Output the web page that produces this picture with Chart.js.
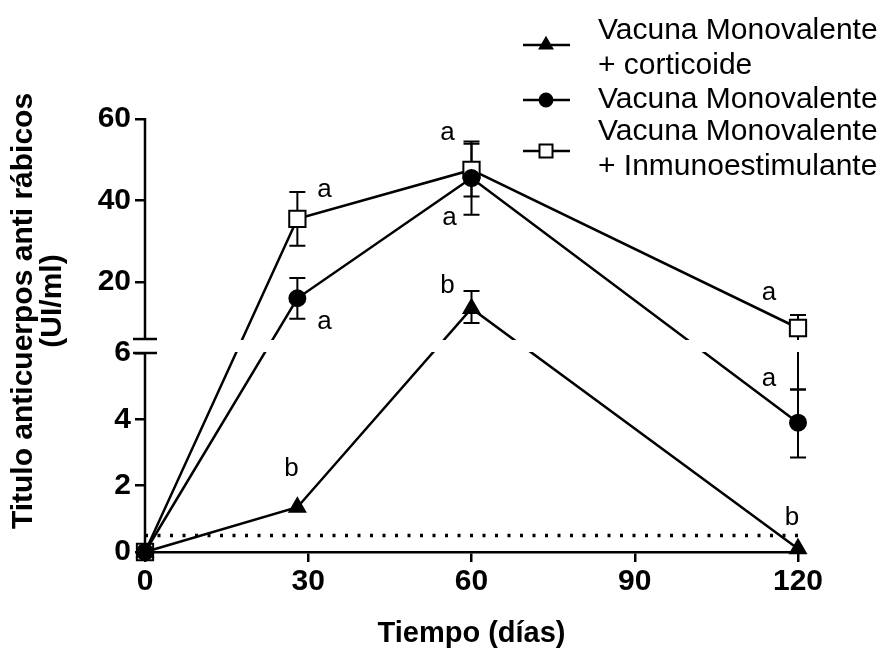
<!DOCTYPE html>
<html>
<head>
<meta charset="utf-8">
<script src="https://cdn.jsdelivr.net/npm/chart.js@4/dist/chart.umd.min.js"></script>
<style>
  html, body { margin: 0; padding: 0; background: #fff; }
</style>
</head>
<body>
<canvas id="myChart" width="890" height="648"></canvas>
<script>
// data
const days = [0, 28, 60, 120];
const corticoide = [0, 1.35, 13.5, 0.1];
const corticoideErrUp = [0, 0, 4.3, 0];
const corticoideErrDown = [0, 0, 3.6, 0];
const monovalente = [0, 16, 45.5, 3.9];
const monovalenteErrUp = [0, 5, 9, 1.0];
const monovalenteErrDown = [0, 5, 9, 1.05];
const inmuno = [0, 35.5, 47.5, 8.7];
const inmunoErrUp = [0, 6.6, 6.4, 3.2];
const inmunoErrDown = [0, 6.6, 6.5, 3.8];
const letrasCorticoide = ['', 'b', 'b', 'b'];
const letrasMonovalente = ['', 'a', 'a', 'a'];
const letrasInmuno = ['', 'a', 'a', 'a'];
const xTicks = [0, 30, 60, 90, 120];
const yTickVals = [0, 2, 4, 6, 20, 40, 60];
const yTitle = ['Titulo anticuerpos anti rábicos', '(UI/ml)'];
const umbral = 0.5;

const FONT = "'Liberation Sans', Arial, sans-serif";

// broken y axis: 0-6 on the lower part, 6-60 on the upper part
const LOW_PX = 199, GAP_PX = 14, HIGH_PX = 220;
function toAxis(v) {
    if (v <= 6) return v * LOW_PX / 6;
    return LOW_PX + GAP_PX + (v - 6) * HIGH_PX / 54;
}
const Y_MAX = LOW_PX + GAP_PX + HIGH_PX;

function pts(values) {
    return values.map((v, i) => ({ x: days[i], y: toAxis(v) }));
}

const series = [
    { label: ['Vacuna Monovalente', '+ corticoide'], values: corticoide, up: corticoideErrUp, down: corticoideErrDown,
      letters: letrasCorticoide, style: 'triangle', radius: 9, fill: '#000',
      offs: [null, [-6, -38], [-24, -23], [-6, -31]] },
    { label: ['Vacuna Monovalente'], values: monovalente, up: monovalenteErrUp, down: monovalenteErrDown,
      letters: letrasMonovalente, style: 'circle', radius: 8, fill: '#000',
      offs: [null, [27, 24], [-22, 40], [-29, -44]] },
    { label: ['Vacuna Monovalente', '+ Inmunoestimulante'], values: inmuno, up: inmunoErrUp, down: inmunoErrDown,
      letters: letrasInmuno, style: 'rect', radius: 11.5, fill: '#fff',
      offs: [null, [27, -29], [-24, -37], [-29, -35]] }
];

const errorBars = {
    id: 'errorBars',
    beforeDatasetsDraw(chart) {
        const { ctx, scales: { x, y } } = chart;
        ctx.save();
        ctx.strokeStyle = '#000';
        ctx.lineWidth = 2;
        series.forEach(s => {
            s.values.forEach((v, i) => {
                if (!s.up[i] && !s.down[i]) return;
                const px = x.getPixelForValue(days[i]);
                const yt = y.getPixelForValue(toAxis(v + s.up[i]));
                const yb = y.getPixelForValue(toAxis(v - s.down[i]));
                ctx.beginPath();
                ctx.moveTo(px, yt); ctx.lineTo(px, yb);
                ctx.moveTo(px - 8, yt); ctx.lineTo(px + 8, yt);
                ctx.moveTo(px - 8, yb); ctx.lineTo(px + 8, yb);
                ctx.stroke();
            });
        });
        ctx.restore();
    },
    afterDatasetsDraw(chart) {
        const { ctx, chartArea, scales: { x, y } } = chart;
        // white band of the axis break
        const yTop = y.getPixelForValue(LOW_PX + GAP_PX);
        const yBot = y.getPixelForValue(LOW_PX);
        ctx.save();
        ctx.fillStyle = '#fff';
        ctx.fillRect(chartArea.left + 2, yTop + 1, chartArea.right - chartArea.left + 20, yBot - yTop - 2);
        // significance letters
        ctx.fillStyle = '#000';
        ctx.font = '26px ' + FONT;
        ctx.textAlign = 'center';
        ctx.textBaseline = 'middle';
        series.forEach(s => {
            s.values.forEach((v, i) => {
                if (!s.letters[i]) return;
                const px = x.getPixelForValue(days[i]);
                const py = y.getPixelForValue(toAxis(v));
                ctx.fillText(s.letters[i], px + s.offs[i][0], py + s.offs[i][1]);
            });
        });
        ctx.restore();
    },
    afterDraw(chart) {
        const { ctx, chartArea, scales: { y } } = chart;
        const ax = chartArea.left;
        const yTop = y.getPixelForValue(LOW_PX + GAP_PX);
        const yBot = y.getPixelForValue(LOW_PX);
        ctx.save();
        ctx.strokeStyle = '#000';
        ctx.lineWidth = 2.5;
        ctx.beginPath();
        ctx.moveTo(ax, chartArea.top - 1); ctx.lineTo(ax, yTop);
        ctx.moveTo(ax, yBot); ctx.lineTo(ax, chartArea.bottom);
        ctx.moveTo(ax - 12, yTop); ctx.lineTo(ax + 12, yTop);
        ctx.moveTo(ax - 12, yBot); ctx.lineTo(ax + 12, yBot);
        ctx.stroke();

        // y axis title, two lines
        ctx.save();
        ctx.translate(24, 311);
        ctx.rotate(-Math.PI / 2);
        ctx.fillStyle = '#000';
        ctx.font = 'bold 30px ' + FONT;
        ctx.textAlign = 'center';
        ctx.textBaseline = 'middle';
        ctx.fillText(yTitle[0], 0, 0);
        ctx.fillText(yTitle[1], 10, 29);
        ctx.restore();

        // legend
        const rows = [45, 100, 151];
        const textRows = [[31, 66], [100], [132, 167]];
        series.forEach((s, k) => {
            const ly = rows[k];
            ctx.lineWidth = 2.5;
            ctx.beginPath();
            ctx.moveTo(523, ly); ctx.lineTo(570, ly);
            ctx.stroke();
            ctx.fillStyle = s.fill;
            ctx.lineWidth = 2;
            Chart.helpers.drawPoint(ctx, { pointStyle: s.style, radius: s.radius * 0.8, rotation: 0, borderWidth: 2 }, 546, ly);
            ctx.fillStyle = '#000';
            ctx.font = '30px ' + FONT;
            ctx.textAlign = 'left';
            ctx.textBaseline = 'middle';
            s.label.forEach((t, j) => ctx.fillText(t, 598, textRows[k][j]));
        });
        ctx.restore();
    }
};

const datasets = series.map(s => ({
    label: s.label.join(' '),
    data: pts(s.values),
    borderColor: '#000',
    borderWidth: 2.5,
    pointStyle: s.style,
    pointRadius: s.radius,
    pointBackgroundColor: s.fill,
    pointBorderColor: '#000',
    pointBorderWidth: 2,
    tension: 0,
    clip: false
}));
datasets.push({
    label: 'umbral',
    data: [{ x: 0, y: toAxis(umbral) }, { x: 120, y: toAxis(umbral) }],
    borderColor: '#000',
    borderWidth: 3.5,
    borderDash: [3, 9.5],
    pointRadius: 0
});

const ctx = document.getElementById('myChart').getContext('2d');
new Chart(ctx, {
    type: 'line',
    data: { datasets },
    options: {
        responsive: false,
        animation: false,
        layout: { padding: { top: 119, right: 92, bottom: 0, left: 0 } },
        plugins: { legend: { display: false }, tooltip: { enabled: false } },
        scales: {
            x: {
                type: 'linear',
                min: 0,
                max: 120,
                afterBuildTicks: s => { s.ticks = xTicks.map(v => ({ value: v })); },
                afterFit: s => { s.height = 96; },
                ticks: { color: '#000', padding: 2, font: { family: FONT, size: 30, weight: 'bold' }, autoSkip: false },
                grid: { drawOnChartArea: false, color: '#000', lineWidth: 2.5, tickLength: 10 },
                border: { display: true, color: '#000', width: 2.5 },
                title: { display: true, text: 'Tiempo (días)', color: '#000', padding: { top: 0, bottom: 0 },
                         font: { family: FONT, size: 29, weight: 'bold', lineHeight: 1 } }
            },
            y: {
                type: 'linear',
                min: 0,
                max: Y_MAX,
                afterBuildTicks: s => { s.ticks = yTickVals.map(v => ({ value: toAxis(v) })); },
                afterFit: s => { s.width = 145; },
                ticks: { color: '#000', padding: 4, autoSkip: false, font: { family: FONT, size: 30, weight: 'bold' },
                         callback: (val, i) => String(yTickVals[i]) },
                grid: { drawOnChartArea: false, color: '#000', lineWidth: 2.5, tickLength: 10 },
                border: { display: false },
                title: { display: false }
            }
        }
    },
    plugins: [errorBars]
});
</script>
</body>
</html>
